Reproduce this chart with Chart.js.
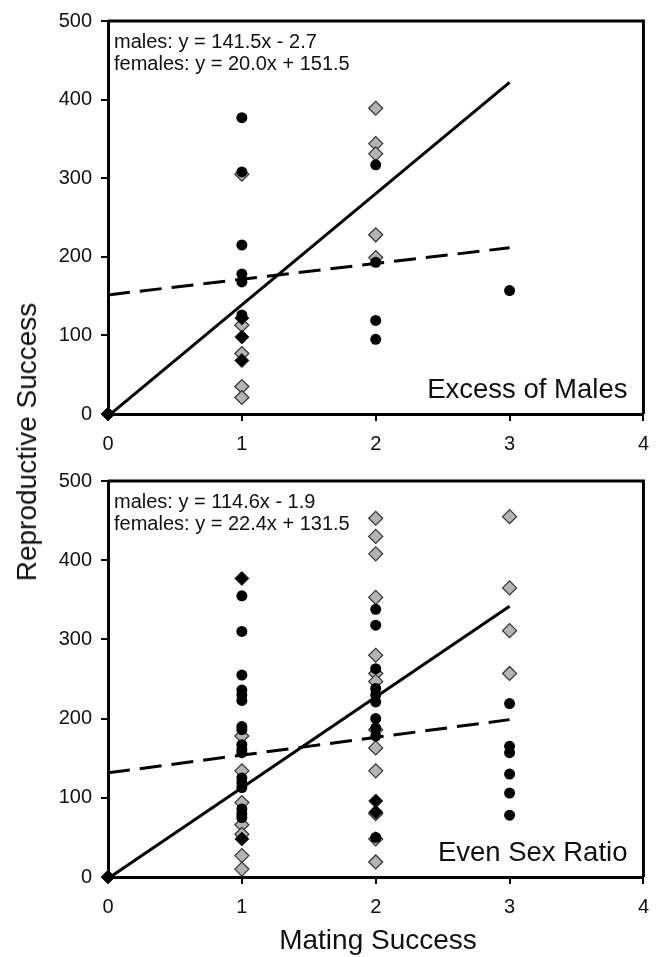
<!DOCTYPE html>
<html>
<head>
<meta charset="utf-8">
<script src="https://cdn.jsdelivr.net/npm/chart.js@4.4.1/dist/chart.umd.min.js"></script>
<style>
  html, body { margin: 0; padding: 0; background: #fff; }
  #wrap { position: relative; width: 660px; height: 957px; overflow: hidden; font-family: "Liberation Sans", Arial, sans-serif; }
  #c1box { position: absolute; left: 0; top: 0; width: 660px; height: 460px; }
  #c2box { position: absolute; left: 0; top: 460px; width: 660px; height: 497px; }
  .ytitle { position: absolute; left: 27px; top: 442px; transform: translate(-50%, -50%) rotate(-90deg); font-size: 28px; white-space: nowrap; color: #111; }
  .xtitle { position: absolute; left: 378px; top: 940px; transform: translate(-50%, -50%); font-size: 28px; white-space: nowrap; color: #111; }
</style>
</head>
<body>
<div id="wrap">
  <div id="c1box"><canvas id="c1" width="660" height="460"></canvas></div>
  <div id="c2box"><canvas id="c2" width="660" height="497"></canvas></div>
  <div class="ytitle">Reproductive Success</div>
  <div class="xtitle">Mating Success</div>
</div>
<script>
// ---------- Data: Excess of Males (top panel) ----------
const emGreyX  = [1, 1, 1, 1, 1, 2, 2, 2, 2, 2];
const emGreyY  = [305, 113, 77, 35, 21, 389, 344, 331, 228, 199];
const emBlackX = [1, 1, 1, 1, 1, 1, 2, 2, 2, 2, 3];
const emBlackY = [377, 308, 215, 178, 168, 126, 317, 193, 119, 95, 157];
const emBDiaX  = [0, 1, 1, 1];
const emBDiaY  = [0, 122, 98, 68];
const emMaleLineX = [0, 3];
const emMaleLineY = [-2.7, 421.8];
const emFemLineX = [0, 3];
const emFemLineY = [151.5, 211.5];
const emEqs = ["males: y = 141.5x - 2.7", "females: y = 20.0x + 151.5"];
const emLabel = "Excess of Males";

// ---------- Data: Even Sex Ratio (bottom panel) ----------
const esGreyX  = [1, 1, 1, 1, 1, 1, 1,
                  2, 2, 2, 2, 2, 2, 2, 2, 2, 2, 2, 2, 2,
                  3, 3, 3, 3];
const esGreyY  = [178, 134, 94, 66, 54, 27, 10,
                  453, 430, 408, 353, 280, 257, 247, 186, 163, 134, 80, 48, 19,
                  455, 365, 311, 257];
const esBlackX = [1, 1, 1, 1, 1, 1, 1, 1, 1, 1, 1, 1, 1, 1, 1, 1, 1,
                  2, 2, 2, 2, 2, 2, 2, 2, 2, 2,
                  3, 3, 3, 3, 3, 3];
const esBlackY = [355, 310, 255, 236, 230, 223, 190, 186, 167, 161, 157, 125, 119, 113, 86, 80, 75,
                  338, 318, 263, 238, 230, 221, 200, 188, 178, 50,
                  219, 165, 157, 130, 106, 78];
const esBDiaX  = [0, 1, 1, 2, 2];
const esBDiaY  = [0, 377, 48, 96, 82];
const esMaleLineX = [0, 3];
const esMaleLineY = [-1.9, 341.9];
const esFemLineX = [0, 3];
const esFemLineY = [131.5, 198.7];
const esEqs = ["males: y = 114.6x - 1.9", "females: y = 22.4x + 131.5"];
const esLabel = "Even Sex Ratio";

const xTicks = [0, 1, 2, 3, 4];
const yTicks = [0, 100, 200, 300, 400, 500];

const FONT = "'Liberation Sans', Arial, Helvetica, sans-serif";
Chart.defaults.font.family = FONT;
Chart.defaults.color = '#111';

function pts(xs, ys) { return xs.map((x, i) => ({ x: x, y: ys[i] })); }

function framePlugin(eqs, label) {
  return {
    id: 'frame',
    beforeDatasetsDraw(chart) {
      const a = chart.chartArea, ctx = chart.ctx;
      ctx.save();
      ctx.strokeStyle = '#000';
      ctx.lineWidth = 3;
      ctx.beginPath();
      ctx.moveTo(a.left, a.top);
      ctx.lineTo(a.right, a.top);
      ctx.lineTo(a.right, a.bottom);
      ctx.stroke();
      ctx.restore();
    },
    afterDraw(chart) {
      const a = chart.chartArea, ctx = chart.ctx;
      ctx.save();
      ctx.fillStyle = '#111';
      ctx.textAlign = 'left';
      ctx.textBaseline = 'alphabetic';
      ctx.font = "20px " + FONT;
      ctx.fillText(eqs[0], a.left + 6, a.top + 27);
      ctx.fillText(eqs[1], a.left + 6, a.top + 49);
      ctx.textAlign = 'right';
      ctx.font = "27.5px " + FONT;
      ctx.fillText(label, a.right - 16, a.bottom - 16);
      ctx.restore();
    }
  };
}

function makeChart(id, d, padTop, xAxisH) {
  const ctx = document.getElementById(id);
  return new Chart(ctx, {
    type: 'scatter',
    data: {
      datasets: [
        { label: 'males line', data: pts(d.mlx, d.mly), showLine: true, pointRadius: 0,
          borderColor: '#000', borderWidth: 3, order: 0, clip: false },
        { label: 'females line', data: pts(d.flx, d.fly), showLine: true, pointRadius: 0,
          borderColor: '#000', borderWidth: 3, borderDash: [22, 10], order: 0, clip: false },
        { label: 'black circles', data: pts(d.bx, d.by), pointStyle: 'circle', pointRadius: 5.5,
          backgroundColor: '#000', borderColor: '#000', borderWidth: 0, order: 1, clip: false },
        { label: 'black diamonds', data: pts(d.dx, d.dy), pointStyle: 'rectRot', pointRadius: 7,
          backgroundColor: '#000', borderColor: '#222', borderWidth: 1, order: 2, clip: false },
        { label: 'grey diamonds', data: pts(d.gx, d.gy), pointStyle: 'rectRot', pointRadius: 7,
          backgroundColor: '#b4b4b4', borderColor: '#333', borderWidth: 1.2, order: 3, clip: false }
      ]
    },
    options: {
      responsive: false,
      animation: false,
      devicePixelRatio: 1,
      layout: { padding: { top: padTop, right: 12, left: 0, bottom: 0 } },
      plugins: { legend: { display: false }, tooltip: { enabled: false } },
      scales: {
        x: {
          type: 'linear', min: 0, max: 4,
          afterBuildTicks: s => { s.ticks = xTicks.map(v => ({ value: v })); },
          afterFit: s => { s.height = xAxisH; },
          grid: { display: true, drawOnChartArea: false, drawTicks: true, tickLength: 7, lineWidth: 2, color: '#000' },
          border: { display: true, color: '#000', width: 3 },
          ticks: { font: { size: 20 }, color: '#111', padding: 11, maxRotation: 0 }
        },
        y: {
          type: 'linear', min: 0, max: 500,
          afterBuildTicks: s => { s.ticks = yTicks.map(v => ({ value: v })); },
          afterFit: s => { s.width = 108; },
          grid: { display: true, drawOnChartArea: false, drawTicks: true, tickLength: 7, lineWidth: 2, color: '#000' },
          border: { display: true, color: '#000', width: 3 },
          ticks: { font: { size: 20 }, color: '#111', padding: 9 }
        }
      }
    },
    plugins: [framePlugin(d.eqs, d.label)]
  });
}

makeChart('c1', {
  gx: emGreyX, gy: emGreyY, bx: emBlackX, by: emBlackY, dx: emBDiaX, dy: emBDiaY,
  mlx: emMaleLineX, mly: emMaleLineY, flx: emFemLineX, fly: emFemLineY,
  eqs: emEqs, label: emLabel
}, 15, 46);

makeChart('c2', {
  gx: esGreyX, gy: esGreyY, bx: esBlackX, by: esBlackY, dx: esBDiaX, dy: esBDiaY,
  mlx: esMaleLineX, mly: esMaleLineY, flx: esFemLineX, fly: esFemLineY,
  eqs: esEqs, label: esLabel
}, 17, 80);
</script>
</body>
</html>
